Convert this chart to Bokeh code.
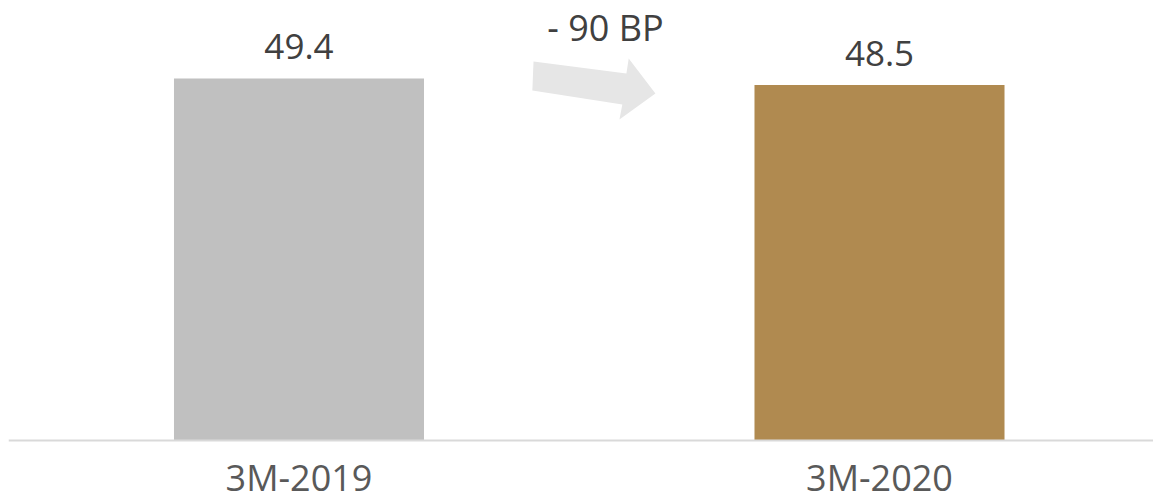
from bokeh.plotting import figure
from bokeh.models import ColumnDataSource, Range1d, Span
from bokeh.core.properties import value
from bokeh.embed import file_html
from bokeh.resources import INLINE

# ---- data ----
categories = ["3M-2019", "3M-2020"]
values = [49.4, 48.5]
value_labels = ["49.4", "48.5"]
bar_colors = ["#c0c0c0", "#b08a50"]
change_label = "- 90 BP"

# decorative arrow (data space)
arrow_x = [0.404, 0.564, 0.568, 0.614, 0.552, 0.557, 0.402]
arrow_y = [51.72, 50.08, 52.13, 47.35, 43.80, 45.85, 47.76]

xs = list(range(len(categories)))
src = ColumnDataSource(dict(x=xs, top=values, color=bar_colors,
                            label=value_labels, cat=categories,
                            zero=[0] * len(xs)))

p = figure(width=1153, height=504, output_backend="svg", toolbar_location=None,
           x_range=Range1d(-0.5004, 1.472), y_range=Range1d(-8.74, 60.04),
           x_axis_location=None, y_axis_location=None,
           min_border_left=8, min_border_right=0,
           min_border_top=0, min_border_bottom=0)
p.outline_line_color = None
p.xgrid.visible = False
p.ygrid.visible = False
p.background_fill_color = "white"
p.border_fill_color = "white"

p.vbar(x="x", top="top", bottom=0, width=0.4307, fill_color="color",
       line_color=None, source=src)

p.add_layout(Span(location=0, dimension="width", line_color="#d9d9d9",
                  line_width=2))

p.text(x="x", y="top", text="label", source=src, text_align="center",
       text_baseline="middle", y_offset=-32, text_font=value("Open Sans"),
       text_font_size="35px", text_color="#404040")

p.text(x="x", y="zero", text="cat", source=src, text_align="center",
       text_baseline="bottom", y_offset=62, text_font=value("Open Sans"),
       text_font_size="36px", text_color="#595959")

p.patch(arrow_x, arrow_y, fill_color="#e6e6e6", line_color=None)
p.text(x=[0.528], y=[56.36], text=[change_label], text_align="center",
       text_baseline="middle", text_font=value("Open Sans"),
       text_font_size="36px", text_color="#404040")

open("out.html", "w").write(file_html(p, INLINE))
